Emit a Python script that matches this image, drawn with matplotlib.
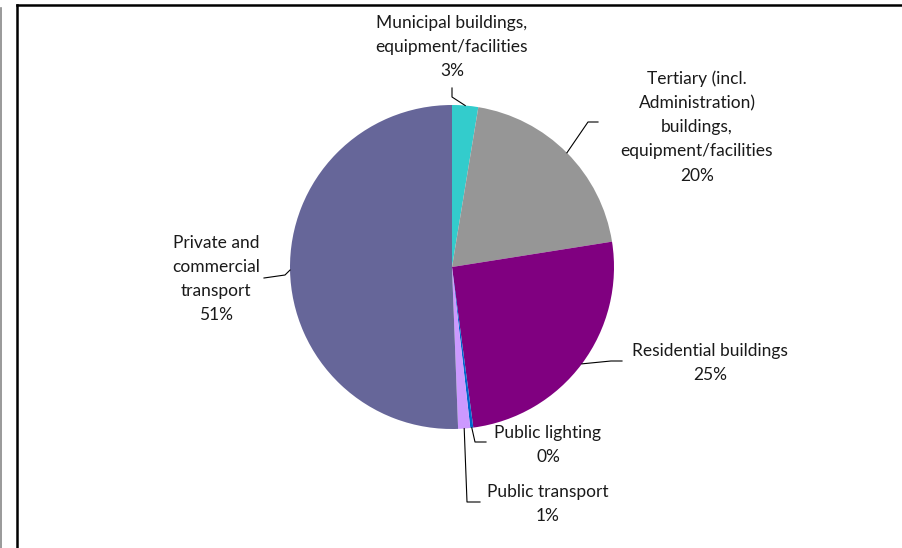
import numpy as np
import matplotlib.pyplot as plt
from matplotlib.lines import Line2D

plt.rcParams['font.family'] = ['Lato', 'DejaVu Sans']

# Slice data (percent of total), clockwise from 12 o'clock
labels = ['Municipal buildings,\nequipment/facilities',
          'Tertiary (incl.\nAdministration)\nbuildings,\nequipment/facilities',
          'Residential buildings',
          'Public lighting',
          'Public transport',
          'Private and\ncommercial\ntransport']
values = [2.6, 19.9, 25.4, 0.3, 1.2, 50.6]
colors = ['#33CCCC', '#969696', '#800080', '#0066CC', '#CC99FF', '#666699']

# label layout in pixels: text centre, leader tail, leader elbow
text_px = [(452, 47), (697, 127), (710, 363), (548, 445), (548, 504), (216, 279)]
tail_px = [(452, 88), (598, 122), (622, 361), (486, 442), (480, 502), (264, 278)]
elbow_px = [(452, 97), (588, 122), (611, 361), (475, 442), (467, 502), (285, 275)]

W, H = 903, 548
cx, cy, R = 452, 267, 162

fig = plt.figure(figsize=(W / 100, H / 100), dpi=100)
ax = fig.add_axes([(cx - R) / W, (H - cy - R) / H, 2 * R / W, 2 * R / H])
ax.pie(values, colors=colors, startangle=90, counterclock=False, radius=1.0,
       wedgeprops=dict(linewidth=0))
ax.set_xlim(-1, 1)
ax.set_ylim(-1, 1)
ax.set_aspect('equal')
ax.axis('off')


def to_data(p):
    return (p[0] - cx) / R, (cy - p[1]) / R


total = sum(values)
cum = np.cumsum([0] + values)
for i, lab in enumerate(labels):
    mid = (cum[i] + values[i] / 2) / total * 2 * np.pi
    px, py = np.sin(mid), np.cos(mid)
    tx, ty = to_data(tail_px[i])
    ex, ey = to_data(elbow_px[i])
    ax.plot([tx, ex, px], [ty, ey, py], color='black', lw=0.8, clip_on=False)
    x, y = to_data(text_px[i])
    pct = '%d%%' % round(values[i] / total * 100)
    ax.text(x, y, lab + '\n' + pct, ha='center', va='center', fontsize=12.5,
            linespacing=1.62, color='#1a1a1a', clip_on=False)

# chart frame
fig.add_artist(Line2D([17 / W, 1], [1 - 5 / H, 1 - 5 / H], color='black', lw=1.8))
fig.add_artist(Line2D([17 / W, 17 / W], [0, 1 - 5 / H], color='black', lw=1.8))
fig.add_artist(Line2D([1 / W, 1 / W], [0, 1 - 8 / H], color='#888888', lw=1.2))

fig.savefig('out.png', dpi=100)
